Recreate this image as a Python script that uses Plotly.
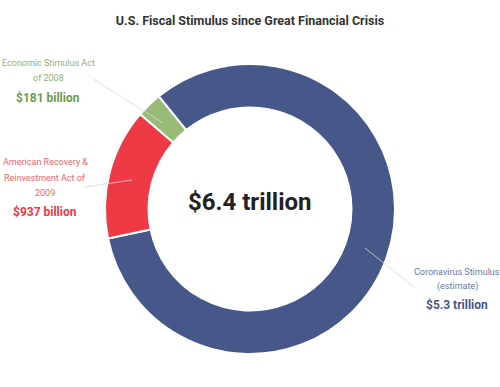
import plotly.graph_objects as go

# Data
labels = ["Coronavirus Stimulus (estimate)", "American Recovery & Reinvestment Act of 2009", "Economic Stimulus Act of 2008"]
values = [5300, 937, 181]  # billions USD
value_text = ["$5.3 trillion", "$937 billion", "$181 billion"]
total_text = "$6.4 trillion"
colors = ["#46578A", "#EE3A45", "#99BA76"]
label_colors = ["#6B78A0", "#F0656D", "#93AF78"]
value_colors = ["#46578A", "#EE3A45", "#6F9A4B"]

W, H = 500, 387
T, B = 64, 33
PH = H - T - B

def px(x):
    return x / W

def py(y):
    return (H - B - y) / PH

FONT = "Roboto, Liberation Sans, sans-serif"

fig = go.Figure(go.Pie(
    labels=labels, values=values, hole=0.70, sort=False,
    direction="clockwise", rotation=-39,
    marker=dict(colors=colors, line=dict(color="white", width=2)),
    textinfo="none", hoverinfo="label+value", showlegend=False,
))

annotations = []
blocks = [
    (["Coronavirus Stimulus", "(estimate)"], 457, [272, 286], 305, 0),
    (["American Recovery &", "Reinvestment Act of", "2009"], 45, [162, 178, 193], 212, 1),
    (["Economic Stimulus Act", "of 2008"], 48, [63, 78], 98, 2),
]
for lines, x, ys, vy, i in blocks:
    for line, y in zip(lines, ys):
        annotations.append(dict(text=line, x=px(x), y=py(y), xref="paper", yref="paper",
                                showarrow=False, xanchor="center", yanchor="middle",
                                font=dict(family=FONT, size=9, color=label_colors[i])))
    annotations.append(dict(text="<b>%s</b>" % value_text[i], x=px(x), y=py(vy), xref="paper", yref="paper",
                            showarrow=False, xanchor="center", yanchor="middle",
                            font=dict(family=FONT, size=12, color=value_colors[i])))

annotations.append(dict(text="<b>%s</b>" % total_text, x=0.5, y=py(202), xref="paper", yref="paper",
                        showarrow=False, xanchor="center", yanchor="middle",
                        font=dict(family=FONT, size=24, color="#222222")))

leaders = [((93, 79), (163, 123)), ((85, 187), (132, 180)), ((365, 248), (415, 288))]
shapes = []
for (x0, y0), (x1, y1) in leaders:
    shapes.append(dict(type="line", xref="paper", yref="paper", x0=px(x0), y0=py(y0), x1=px(x1), y1=py(y1),
                       line=dict(color="rgba(215,215,215,0.8)", width=1), layer="above"))

fig.update_layout(
    width=W, height=H,
    margin=dict(l=0, r=0, t=T, b=B),
    paper_bgcolor="white", plot_bgcolor="white",
    title=dict(text="<b>U.S. Fiscal Stimulus since Great Financial Crisis</b>", x=0.5, xanchor="center",
               y=1 - 21 / H, yanchor="middle", yref="container",
               font=dict(family=FONT, size=12.5, color="#333333")),
    annotations=annotations, shapes=shapes,
)

fig.write_html("out.html", config={"displayModeBar": False},
               post_script="document.body.style.margin='0';")
